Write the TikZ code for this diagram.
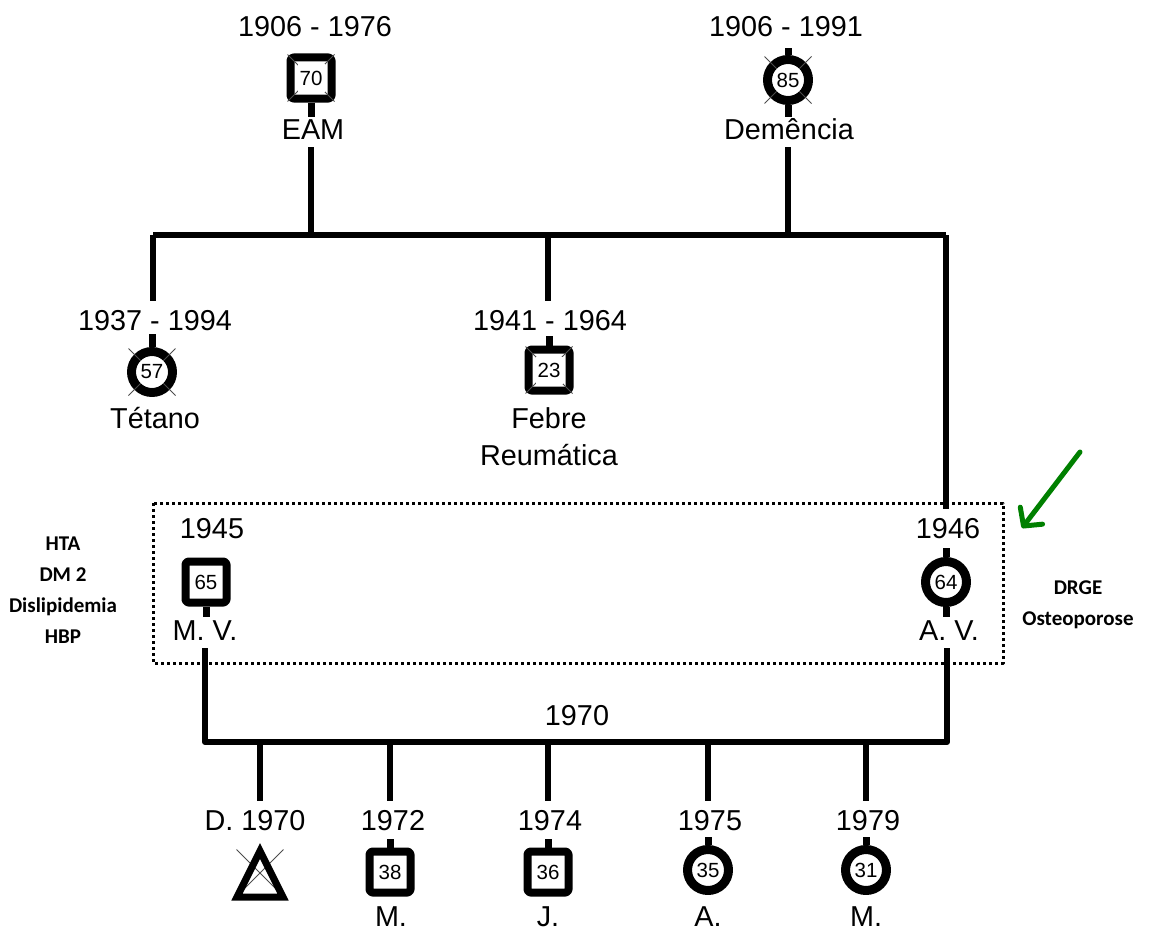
\documentclass[tikz,border=0pt]{standalone}
\usepackage{fontspec}
\setmainfont{Liberation Sans}
\newfontfamily\calibri{Carlito}
\usetikzlibrary{shapes.misc,arrows.meta}
\definecolor{arrowgreen}{RGB}{0,128,0}

\begin{document}
\begin{tikzpicture}[x=1pt,y=-1pt,line join=round,
  font=\fontsize{28.8}{32}\selectfont,
  txt/.style={anchor=base,inner xsep=0pt,inner ysep=8pt,
    text height=21pt,text depth=0pt},
  line/.style={line width=6pt},
  stub/.style={line width=7pt},
  sqsym/.style={draw,rectangle,rounded corners=3pt,line width=8pt,
    minimum size=41pt,inner sep=0pt,fill=white,
    font=\fontsize{20.5}{22}\selectfont},
  circsym/.style={draw,circle,line width=9pt,minimum size=41pt,
    inner sep=0pt,fill=white,font=\fontsize{20.5}{22}\selectfont},
  xmark/.style={draw=black!70,cross out,line width=1pt,minimum size=46pt,
    inner sep=0pt},
  sqnum/.style={rectangle,fill=white,minimum size=27pt,inner sep=0pt,
    font=\fontsize{20.5}{22}\selectfont},
  circnum/.style={circle,fill=white,minimum size=31pt,inner sep=0pt,
    font=\fontsize{20.5}{22}\selectfont},
  trisym/.style={draw,line width=7pt,line join=miter},
  note/.style={align=center,font=\calibri\bfseries\fontsize{21}{31}\selectfont},
  dotbox/.style={line width=3pt,dash pattern=on 3pt off 3pt},
  greenarrow/.style={draw=arrowgreen,line width=5pt,line cap=round,
    -{Straight Barb[length=13pt,width=28pt,round]}}]
\useasboundingbox (0,0) rectangle (1151,934);

% grandparents
\node[txt] (y1906a) at (315,37) {1906 - 1976};
\node[sqsym] (p70) at (311,78) {};
\node[xmark] (x70) at (p70) {};
\node[sqnum] (n70) at (p70) {70};
\draw[stub] (p70.south) -- ++(0,14);
\node[txt] (eam) at (313,139) {EAM};

\node[txt] (y1906b) at (786,37) {1906 - 1991};
\node[circsym] (p85) at (788,80) {};
\node[xmark] (x85) at (p85) {};
\node[circnum] (n85) at (p85) {85};
\draw[stub] (p85.north) -- ++(0,-7);
\draw[stub] (p85.south) -- ++(0,12);
\node[txt] (dem) at (789,139) {Demência};

\coordinate (jl) at (153,235);
\coordinate (jp1) at (311,235);
\coordinate (jm) at (548,235);
\coordinate (jp2) at (788,235);
\coordinate (jr) at (946,235);
\draw[line] (jp1 |- eam.south) -- (jp1);
\draw[line] (jp2 |- dem.south) -- (jp2);
\draw[line] (jl) -- (jr);

% children of the grandparents
\node[txt] (y1937) at (155,330) {1937 - 1994};
\node[circsym] (p57) at (152,372) {};
\node[xmark] (x57) at (p57) {};
\node[circnum] (n57) at (p57) {57};
\draw[stub] (p57.north) -- ++(0,-13);
\node[txt] (tet) at (155,428) {Tétano};

\node[txt] (y1941) at (550,330) {1941 - 1964};
\node[sqsym] (p23) at (549,370) {};
\node[xmark] (x23) at (p23) {};
\node[sqnum] (n23) at (p23) {23};
\draw[stub] (p23.north) -- ++(0,-10);
\node[txt] (feb) at (549,428) {Febre};
\node[txt] (reu) at (549,465) {Reumática};

\draw[line] (jl) -- (jl |- y1937.north);
\draw[line] (jm) -- (jm |- y1941.north);

% parents
\draw[dotbox] (153,503) rectangle (1003,663);
\node[txt] (y1945) at (212,538) {1945};
\node[sqsym] (p65) at (206,582) {65};
\draw[stub] (p65.south) -- ++(0,10);
\node[txt] (mv) at (205,640) {M. V.};

\node[txt] (y1946) at (948,538) {1946};
\node[circsym] (p64) at (946,582) {64};
\draw[stub] (p64.north) -- ++(0,-9);
\draw[stub] (p64.south) -- ++(0,10);
\node[txt] (av) at (949,640) {A. V.};

\draw[line] (jr) -- (jr |- y1946.north);

\node[note] (left) at (63,590) {HTA\\DM 2\\Dislipidemia\\HBP};
\node[note] (right) at (1078,605) {DRGE\\Osteoporose};

\coordinate (ga1) at (1080,452);
\coordinate (ga2) at (1022,528);
\draw[greenarrow] (ga1) -- (ga2);

% marriage and grandchildren
\node[txt] (y1970) at (577,725) {1970};
\coordinate (bl) at (205,742);
\coordinate (br) at (947,742);
\draw[line] (bl |- mv.south) -- (bl) -- (br) -- (br |- av.south);

\coordinate (c1) at (260,742);
\coordinate (c2) at (390,742);
\coordinate (c3) at (548,742);
\coordinate (c4) at (708,742);
\coordinate (c5) at (866,742);

\node[txt] (d70) at (255,830) {D. 1970};
\node[txt] (d72) at (393,830) {1972};
\node[txt] (d74) at (550,830) {1974};
\node[txt] (d75) at (710,830) {1975};
\node[txt] (d79) at (868,830) {1979};
\draw[line] (c1) -- (c1 |- d70.north);
\draw[line] (c2) -- (c2 |- d72.north);
\draw[line] (c3) -- (c3 |- d74.north);
\draw[line] (c4) -- (c4 |- d75.north);
\draw[line] (c5) -- (c5 |- d79.north);

\node[xmark] (xtri) at (260,873) {};
\draw[trisym] (260,851) -- (283,897) -- (237,897) -- cycle;

\node[sqsym] (p38) at (390,872) {38};
\draw[stub] (p38.north) -- ++(0,-9);
\node[sqsym] (p36) at (548,872) {36};
\draw[stub] (p36.north) -- ++(0,-9);
\node[circsym] (p35) at (708,870) {35};
\draw[stub] (p35.north) -- ++(0,-8);
\node[circsym] (p31) at (866,870) {31};
\draw[stub] (p31.north) -- ++(0,-8);

\node[txt] (m72) at (391,926) {M.};
\node[txt] (j74) at (548,926) {J.};
\node[txt] (a75) at (708,926) {A.};
\node[txt] (m79) at (866,926) {M.};
\end{tikzpicture}
\end{document}
